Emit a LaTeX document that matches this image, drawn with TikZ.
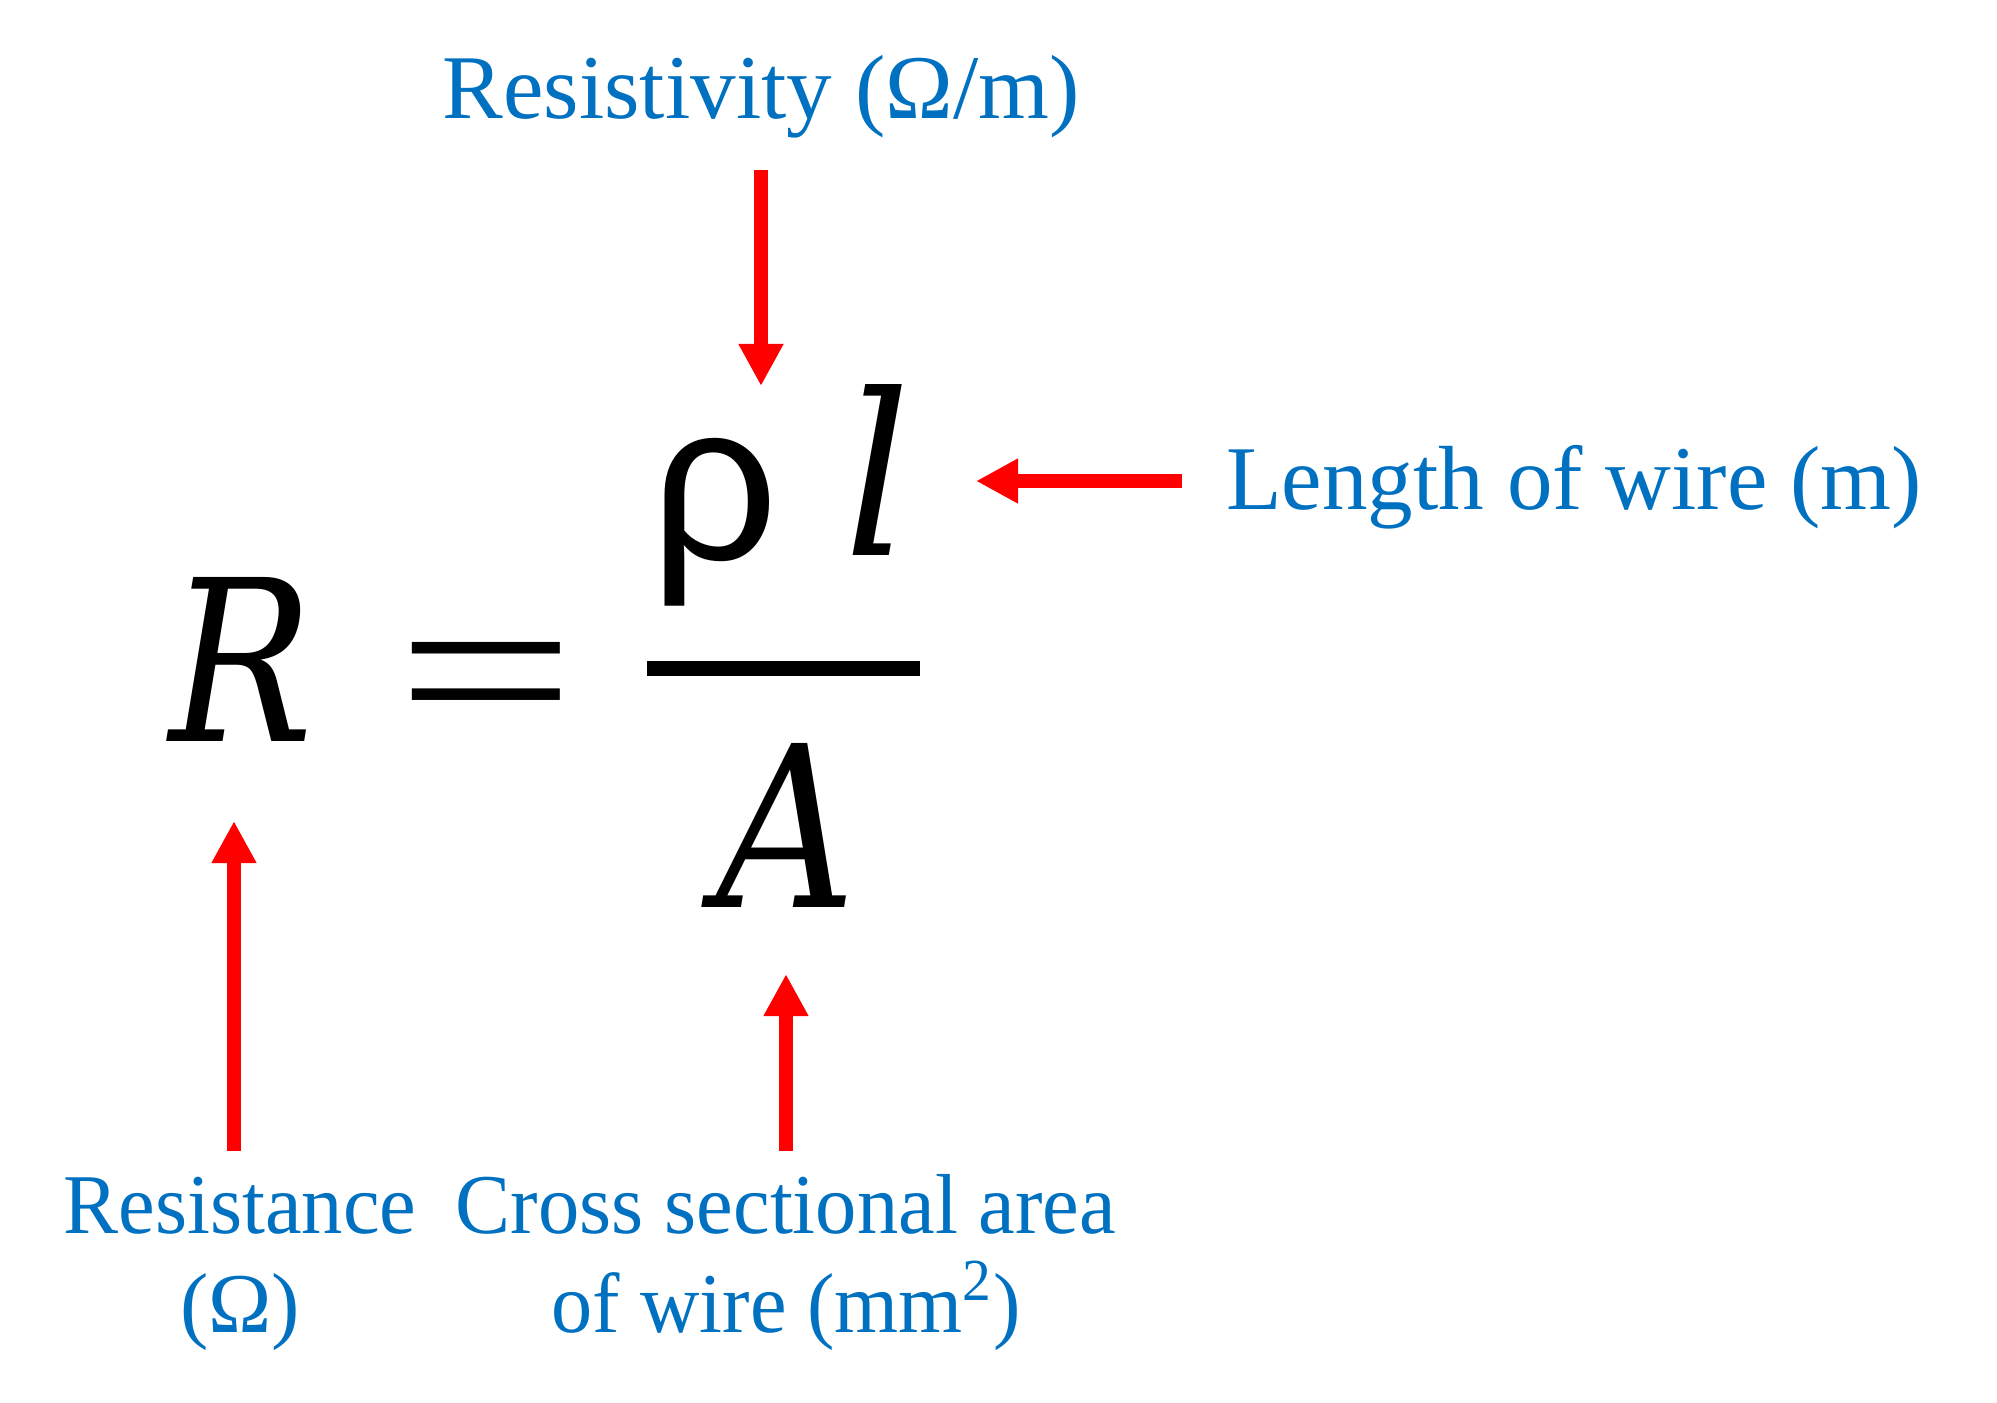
\documentclass[tikz,border=0pt]{standalone}
\usepackage{fontspec}
\usepackage{graphicx}
\setmainfont{Liberation Serif}
\newfontfamily\greekfont{Liberation Sans}
\newfontfamily\mathitfont{DejaVu Serif}
\usetikzlibrary{arrows.meta}
\definecolor{lblue}{HTML}{0070C0}
\definecolor{ared}{HTML}{FF0000}
\tikzset{
  lbl/.style={text=lblue, inner sep=0pt, anchor=base, font=\fontsize{25.9pt}{31pt}\selectfont},
  lblsm/.style={text=lblue, inner sep=0pt, anchor=base, font=\fontsize{24.2pt}{29pt}\selectfont},
  sym/.style={inner sep=0pt, anchor=base, font=\fontsize{64pt}{72pt}\selectfont\mathitfont\itshape},
  upsym/.style={inner sep=0pt, anchor=base, font=\fontsize{66pt}{75pt}\selectfont},
  arr/.style={draw=ared, line width=0.14cm, -{Triangle[width=0.42cm,length=0.42cm]}},
  fracbar/.style={draw=black, line width=0.15cm}
}
\begin{document}
\begin{tikzpicture}[x=0.01cm,y=-0.01cm]
\path[use as bounding box] (0,0) rectangle (1997,1402);
% equation
\node[sym] (R) at (242,741) {\scalebox{0.85}[1]{R}};
\node[upsym] (eq) at (486,748) {\scalebox{1.37}[1]{=}};
\node[upsym, font=\fontsize{64pt}{72pt}\selectfont\greekfont] (rho) at (715,559) {ρ};
\node[sym] (l) at (878,555) {\scalebox{0.92}[1]{l}};
\node[sym] (A) at (786,907) {\scalebox{0.86}[1]{A}};
\coordinate (barL) at (647,668);
\coordinate (barR) at (920,668);
\draw[fracbar] (barL) -- (barR);
% labels
\node[lbl] (resistivity) at (761,118) {Resistivity (Ω/m)};
\node[lbl] (length) at (1574,509) {Length of wire (m)};
\node[lblsm] (resistance) at (240,1233) {\scalebox{0.97}[1]{Resistance}};
\node[lblsm] (ohm) at (240,1332) {(Ω)};
\node[lblsm] (cross) at (786,1233) {\scalebox{0.97}[1]{Cross sectional area}};
\node[lblsm] (ofwire) at (786,1332) {\scalebox{0.967}[1]{of wire (mm\textsuperscript{2})}};
% arrows
\coordinate (a1s) at (761,170); \coordinate (a1e) at (761,386);
\coordinate (a2s) at (1182,481); \coordinate (a2e) at (976,481);
\coordinate (a3s) at (234,1151); \coordinate (a3e) at (234,821);
\coordinate (a4s) at (786,1151); \coordinate (a4e) at (786,974);
\draw[arr] (a1s) -- (a1e);
\draw[arr] (a2s) -- (a2e);
\draw[arr] (a3s) -- (a3e);
\draw[arr] (a4s) -- (a4e);
\end{tikzpicture}
\end{document}
